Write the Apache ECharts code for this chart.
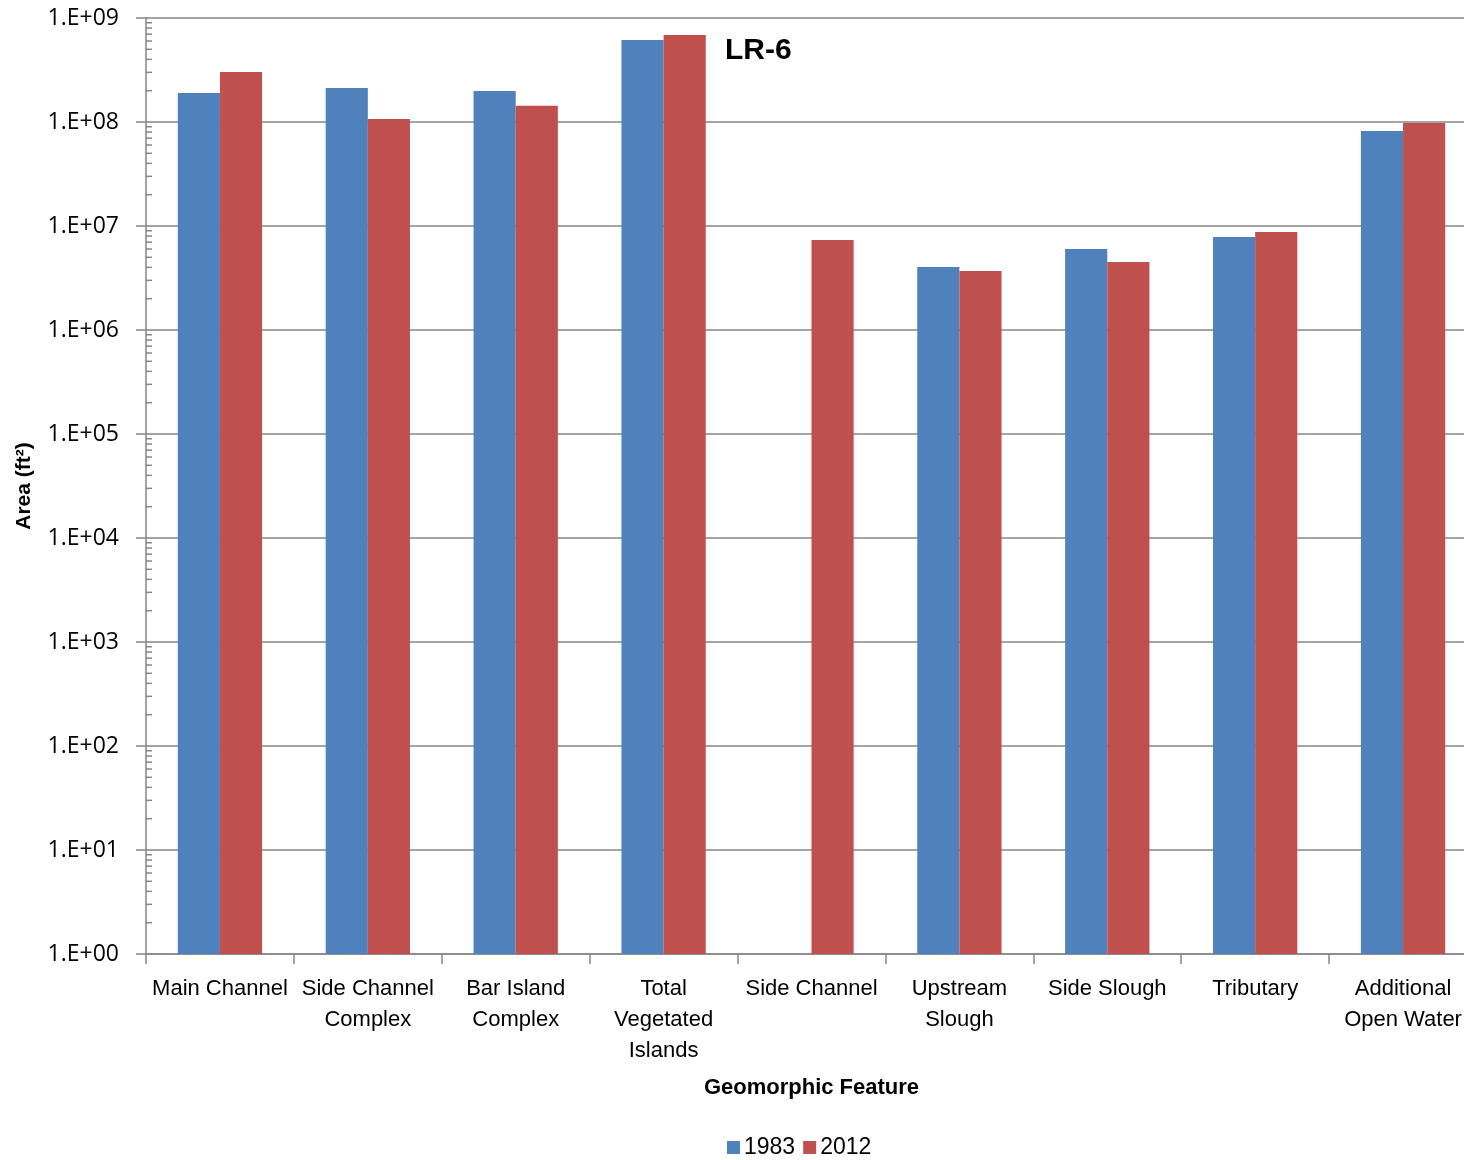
<!DOCTYPE html>
<html>
<head>
<meta charset="utf-8">
<script src="https://cdn.jsdelivr.net/npm/echarts@6/dist/echarts.min.js"></script>
<style>html,body{margin:0;padding:0;background:#fff}#c{width:1464px;height:1160px}</style>
</head>
<body>
<div id="c"></div>
<script>
const categories = ['Main Channel', 'Side Channel\nComplex', 'Bar Island\nComplex', 'Total\nVegetated\nIslands', 'Side Channel', 'Upstream\nSlough', 'Side Slough', 'Tributary', 'Additional\nOpen Water'];
const values1983 = [1.9e8, 2.12e8, 1.99e8, 6.14e8, null, 4.03e6, 6.01e6, 7.83e6, 8.19e7];
const values2012 = [3.03e8, 1.07e8, 1.43e8, 6.87e8, 7.33e6, 3.69e6, 4.5e6, 8.75e6, 9.78e7];
const seriesNames = ['1983', '2012'];
const yTickLabels = ['1.E+00','1.E+01','1.E+02','1.E+03','1.E+04','1.E+05','1.E+06','1.E+07','1.E+08','1.E+09'];
const minorTickValues = [];
for (let e = 0; e < 9; e++) for (let m = 2; m <= 9; m++) minorTickValues.push(m * Math.pow(10, e));

const narrow = '"Liberation Sans Narrow", "Arial Narrow", "Liberation Sans", sans-serif';
const chart = echarts.init(document.getElementById('c'), null, {renderer: 'canvas'});
chart.setOption({
  animation: false,
  title: {
    text: 'LR-6', left: 720, top: 31,
    textStyle: {fontFamily: narrow, fontWeight: 'bold', fontSize: 30, color: '#000'}
  },
  legend: {
    data: seriesNames, left: 722, top: 1131, itemWidth: 13, itemHeight: 13, itemGap: 8,
    icon: 'rect',
    textStyle: {fontFamily: narrow, fontSize: 23, color: '#000', padding: [0, 0, 0, -1]}
  },
  grid: {left: 146, top: 18, right: -13, bottom: 206, outerBoundsMode: 'none', containLabel: false},
  xAxis: {
    type: 'category', data: categories,
    name: 'Geomorphic Feature', nameLocation: 'middle', nameGap: 123,
    nameTextStyle: {fontFamily: narrow, fontWeight: 'bold', fontSize: 22, color: '#000'},
    axisLine: {lineStyle: {color: '#868686', width: 1.5}},
    axisTick: {show: true, length: 10, alignWithLabel: false, lineStyle: {color: '#868686', width: 1.5}},
    axisLabel: {interval: 0, fontFamily: narrow, fontSize: 22, color: '#000', lineHeight: 31, margin: 19}
  },
  yAxis: {
    type: 'log', logBase: 10, min: 1, max: 1e9,
    name: 'Area (ft²)', nameLocation: 'middle', nameGap: 111,
    nameTextStyle: {fontFamily: narrow, fontWeight: 'bold', fontSize: 21, color: '#000'},
    axisLine: {show: true, lineStyle: {color: '#868686', width: 1.5}},
    axisTick: {show: true, length: 10, lineStyle: {color: '#868686', width: 1.5}},
    splitLine: {show: true, lineStyle: {color: '#868686', width: 1.5}},
    axisLabel: {
      fontFamily: '"Open Sans", "Noto Sans", sans-serif', fontSize: 23, color: '#000', margin: 27,
      formatter: function (v) { const e = Math.round(Math.log10(v)); return yTickLabels[e]; }
    }
  },
  series: [
    {name: seriesNames[0], type: 'bar', data: values1983, barGap: '0%', barCategoryGap: '43%',
     itemStyle: {color: '#4F81BD'}},
    {name: seriesNames[1], type: 'bar', data: values2012, barGap: '0%', barCategoryGap: '43%',
     itemStyle: {color: '#C0504D'}},
    {type: 'custom', silent: true, data: minorTickValues.map(v => [0, v]),
     encode: {x: 0, y: 1},
     renderItem: function (params, api) {
       const p = api.coord([0, api.value(1)]);
       const x0 = params.coordSys.x;
       return {type: 'line', shape: {x1: x0, y1: p[1], x2: x0 + 6, y2: p[1]},
         style: {stroke: '#868686', lineWidth: 1.5}};
     }}
  ]
});
</script>
</body>
</html>
